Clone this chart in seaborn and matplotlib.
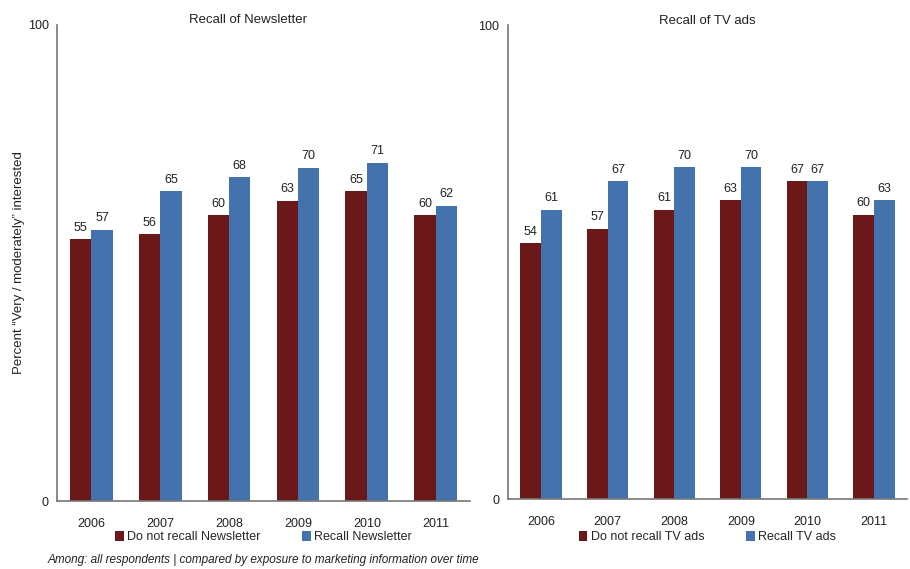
import pandas as pd
import seaborn as sns
import matplotlib.pyplot as plt

# Data
years = ["2006", "2007", "2008", "2009", "2010", "2011"]
news_no = [55, 56, 60, 63, 65, 60]
news_yes = [57, 65, 68, 70, 71, 62]
tv_no = [54, 57, 61, 63, 67, 60]
tv_yes = [61, 67, 70, 70, 67, 63]

red = "#6B1818"
blue = "#4472AC"

sns.set_style("white")
plt.rcParams["font.family"] = ["Liberation Sans", "DejaVu Sans"]

fig = plt.figure(figsize=(9.1, 5.69), dpi=100)
ax1 = fig.add_axes([0.0626, 0.1195, 0.454, 0.837])
ax2 = fig.add_axes([0.558, 0.123, 0.439, 0.833])

panels = [
    (ax1, news_no, news_yes, "Do not recall Newsletter", "Recall Newsletter", "Recall of Newsletter", -0.076, 0.462),
    (ax2, tv_no, tv_yes, "Do not recall TV ads", "Recall TV ads", "Recall of TV ads", -0.08, 0.5),
]

for ax, no, yes, lab_no, lab_yes, title, leg_y, title_x in panels:
    df = pd.DataFrame({
        "Year": years * 2,
        "Value": no + yes,
        "Group": [lab_no] * len(years) + [lab_yes] * len(years),
    })
    sns.barplot(data=df, x="Year", y="Value", hue="Group",
                palette=[red, blue], width=0.62, saturation=1,
                linewidth=0, ax=ax)
    for cont in ax.containers:
        ax.bar_label(cont, fmt="%d", padding=4, fontsize=9, color="#222222")
    ax.set_ylim(0, 100)
    ax.set_yticks([0, 100])
    ax.set_xlabel("")
    ax.set_ylabel("")
    ax.tick_params(axis="both", length=0, labelsize=9, colors="#222222")
    ax.tick_params(axis="x", pad=12)
    ax.tick_params(axis="y", pad=6)
    sns.despine(ax=ax)
    for s in ["left", "bottom"]:
        ax.spines[s].set_color("#777777")
        ax.spines[s].set_linewidth(1.2)
    ax.set_title(title, fontsize=9.5, pad=1, color="#222222", x=title_x)
    ax.legend(loc="center", bbox_to_anchor=(0.5, leg_y), ncol=2,
              frameon=False, fontsize=9, handlelength=0.7, handleheight=0.9,
              handletextpad=0.3, columnspacing=3.3)

ax1.set_ylabel("Percent \u201cVery / moderately\u201d interested", fontsize=9.5,
               color="#222222", labelpad=2)

fig.text(0.052, 0.01, "Among: all respondents | compared by exposure to marketing information over time",
         fontsize=8.5, style="italic", color="#222222")

fig.savefig("out.png", dpi=100)
